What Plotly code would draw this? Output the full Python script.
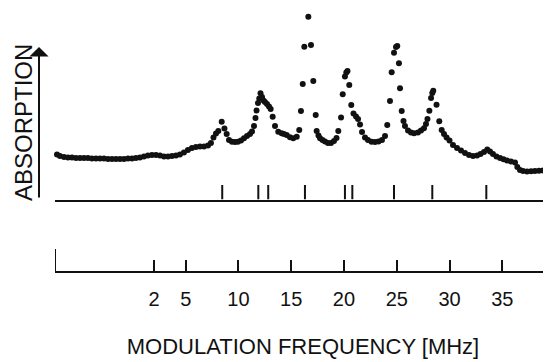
import plotly.graph_objects as go

# ---- data ----
freq_mhz = [-7.44, -7.20, -6.92, -6.54, -6.16, -5.78, -5.40, -5.02, -4.64, -4.27,
            -3.89, -3.51, -3.13, -2.75, -2.37, -1.99, -1.61, -1.23, -0.85, -0.47,
            -0.09, 0.28, 0.66, 1.04, 1.42, 1.80, 2.18, 2.56, 2.94, 3.32,
            3.70, 4.08, 4.45, 4.83, 5.21, 5.59, 5.97, 6.35, 6.73, 7.11,
            7.39, 7.63, 7.87, 8.09, 8.41, 8.67, 8.88, 9.10, 9.38, 9.67,
            9.95, 10.24, 10.52, 10.81, 11.09, 11.28, 11.47, 11.61, 11.71, 11.85,
            11.97, 12.09, 12.23, 12.37, 12.51, 12.70, 12.89, 13.05, 13.24, 13.46,
            13.77, 14.09, 14.31, 14.57, 14.88, 15.19, 15.52, 15.76, 15.92, 16.09,
            16.24, 16.62, 16.87, 17.09, 17.32, 17.41, 17.58, 17.73, 17.96, 18.20,
            18.48, 18.77, 19.05, 19.29, 19.46, 19.72, 19.88, 20.09, 20.22, 20.33,
            20.50, 20.69, 20.90, 21.14, 21.33, 21.52, 21.71, 21.99, 22.27, 22.61,
            22.94, 23.27, 23.60, 23.89, 24.10, 24.36, 24.52, 24.74, 24.93, 25.05,
            25.21, 25.31, 25.47, 25.64, 25.78, 26.07, 26.35, 26.64, 27.01, 27.30,
            27.58, 27.77, 27.91, 28.09, 28.25, 28.37, 28.46, 28.77, 29.03, 29.26,
            29.48, 29.72, 30.00, 30.33, 30.71, 31.09, 31.47, 31.85, 32.23, 32.61,
            32.94, 33.27, 33.58, 33.84, 34.12, 34.45, 34.79, 35.12, 35.45, 35.83,
            36.21, 36.43, 36.68, 36.97, 37.35, 37.73, 38.10, 38.48, 38.86, 39.24]

absorption = [4.80, 4.55, 4.40, 4.30, 4.25, 4.25, 4.20, 4.20, 4.20, 4.20,
              4.15, 4.15, 4.15, 4.15, 4.10, 4.10, 4.10, 4.10, 4.10, 4.15,
              4.15, 4.20, 4.25, 4.35, 4.45, 4.50, 4.50, 4.45, 4.35, 4.35,
              4.40, 4.45, 4.55, 4.75, 5.00, 5.20, 5.30, 5.35, 5.35, 5.45,
              5.70, 6.25, 6.65, 6.90, 7.83, 7.15, 6.60, 6.00, 5.83, 5.80,
              5.83, 5.95, 6.17, 6.40, 6.60, 6.85, 7.40, 8.20, 8.95, 9.70,
              10.15, 10.67, 10.30, 9.95, 9.80, 9.60, 9.35, 9.10, 8.33, 7.40,
              6.83, 6.67, 6.60, 6.50, 6.27, 6.17, 6.33, 7.00, 8.90, 11.60,
              15.33, 18.33, 15.50, 11.90, 8.50, 6.90, 6.45, 6.17, 6.00, 5.85,
              5.70, 5.70, 5.90, 6.20, 6.90, 8.25, 10.57, 12.35, 12.75, 12.90,
              11.50, 9.50, 8.65, 8.35, 8.10, 7.55, 6.80, 6.25, 6.00, 5.83,
              5.80, 5.85, 6.00, 6.40, 7.50, 9.90, 12.77, 14.73, 15.30, 15.40,
              13.67, 11.17, 8.90, 7.90, 7.40, 6.95, 6.75, 6.67, 6.75, 6.95,
              7.17, 7.60, 8.10, 8.93, 10.20, 10.70, 10.93, 9.53, 7.87, 7.00,
              6.60, 6.25, 5.95, 5.50, 5.20, 4.95, 4.70, 4.50, 4.40, 4.45,
              4.60, 4.80, 5.05, 4.85, 4.60, 4.35, 4.20, 4.07, 3.95, 3.85,
              3.75, 3.30, 3.00, 2.90, 2.85, 2.88, 2.90, 2.92, 2.95, 2.97]

stick_freqs = [8.46, 11.88, 12.82, 16.30, 20.09, 20.79, 24.74, 28.37, 33.49]

tick_values = [2, 5, 10, 15, 20, 25, 30, 35]
tick_labels = ["2", "5", "10", "15", "20", "25", "30", "35"]

x_start, x_end = -7.39, 39.62

# The page body has an 8px margin, so the figure is sized to fit the window.
PAGE_W, PAGE_H, BODY = 551, 362, 8
W, H = PAGE_W - BODY, PAGE_H - BODY


def px(x):  # window pixel -> paper fraction
    return (x - BODY) / W


def py(y):
    return 1 - (y - BODY) / H


FONT = "Liberation Sans, Arial, Helvetica, sans-serif"
INK = "#111111"

fig = go.Figure()

# measured spectrum (dots)
fig.add_trace(go.Scatter(
    x=freq_mhz, y=absorption, mode="markers",
    marker=dict(size=6, color=INK, line=dict(width=0)),
    xaxis="x", yaxis="y", cliponaxis=False, showlegend=False,
    hoverinfo="x+y"))

# stick spectrum
sx, sy = [], []
for f in stick_freqs:
    sx += [f, f, None]
    sy += [0, 1, None]
fig.add_trace(go.Scatter(
    x=sx, y=sy, mode="lines", line=dict(color=INK, width=2),
    xaxis="x", yaxis="y2", cliponaxis=False, showlegend=False,
    hoverinfo="skip"))

# frequency scale: origin marker at the start of the scale
fig.add_trace(go.Scatter(
    x=[x_start, x_start], y=[0, 1], mode="lines", line=dict(color=INK, width=2),
    xaxis="x2", yaxis="y3", cliponaxis=False, showlegend=False,
    hoverinfo="skip"))

xdom = [px(55), 1.0]
y_top_val = (200 - BODY) / 10.0  # absorption value at the top of the page area

fig.update_layout(
    width=W, height=H,
    margin=dict(l=0, r=0, t=0, b=0),
    paper_bgcolor="white", plot_bgcolor="rgba(0,0,0,0)",
    font=dict(family=FONT, color=INK),
    xaxis=dict(domain=xdom, range=[x_start, x_end], anchor="y2",
               showline=True, linewidth=2, linecolor=INK,
               ticks="", showticklabels=False, showgrid=False, zeroline=False),
    yaxis=dict(domain=[py(200), 1.0], range=[0, y_top_val], anchor="x",
               visible=False),
    yaxis2=dict(domain=[py(199.5), py(185)], range=[0, 1], anchor="x",
                visible=False),
    xaxis2=dict(domain=xdom, range=[x_start, x_end], anchor="y3",
                showline=True, linewidth=2, linecolor=INK,
                ticks="inside", ticklen=11, tickwidth=2, tickcolor=INK,
                tickmode="array", tickvals=tick_values, ticktext=tick_labels,
                tickfont=dict(size=20, family=FONT, color=INK),
                ticklabelstandoff=9,
                showgrid=False, zeroline=False,
                title=dict(text="MODULATION FREQUENCY [MHz]", standoff=30,
                           font=dict(size=22, family=FONT, color=INK))),
    yaxis3=dict(domain=[py(271), py(249)], range=[0, 1], anchor="x2",
                visible=False),
    annotations=[
        dict(text="ABSORPTION", textangle=-90, xref="paper", yref="paper",
             x=px(24), y=py(123), xanchor="center", yanchor="middle",
             showarrow=False, font=dict(size=24, family=FONT, color=INK)),
        dict(text="", xref="paper", yref="paper", x=px(39), y=py(47),
             ax=0, ay=152, showarrow=True, arrowhead=1, arrowsize=1.6,
             arrowwidth=2, arrowcolor=INK, standoff=0, startstandoff=0),
    ],
)

fig.write_html("out.html")
